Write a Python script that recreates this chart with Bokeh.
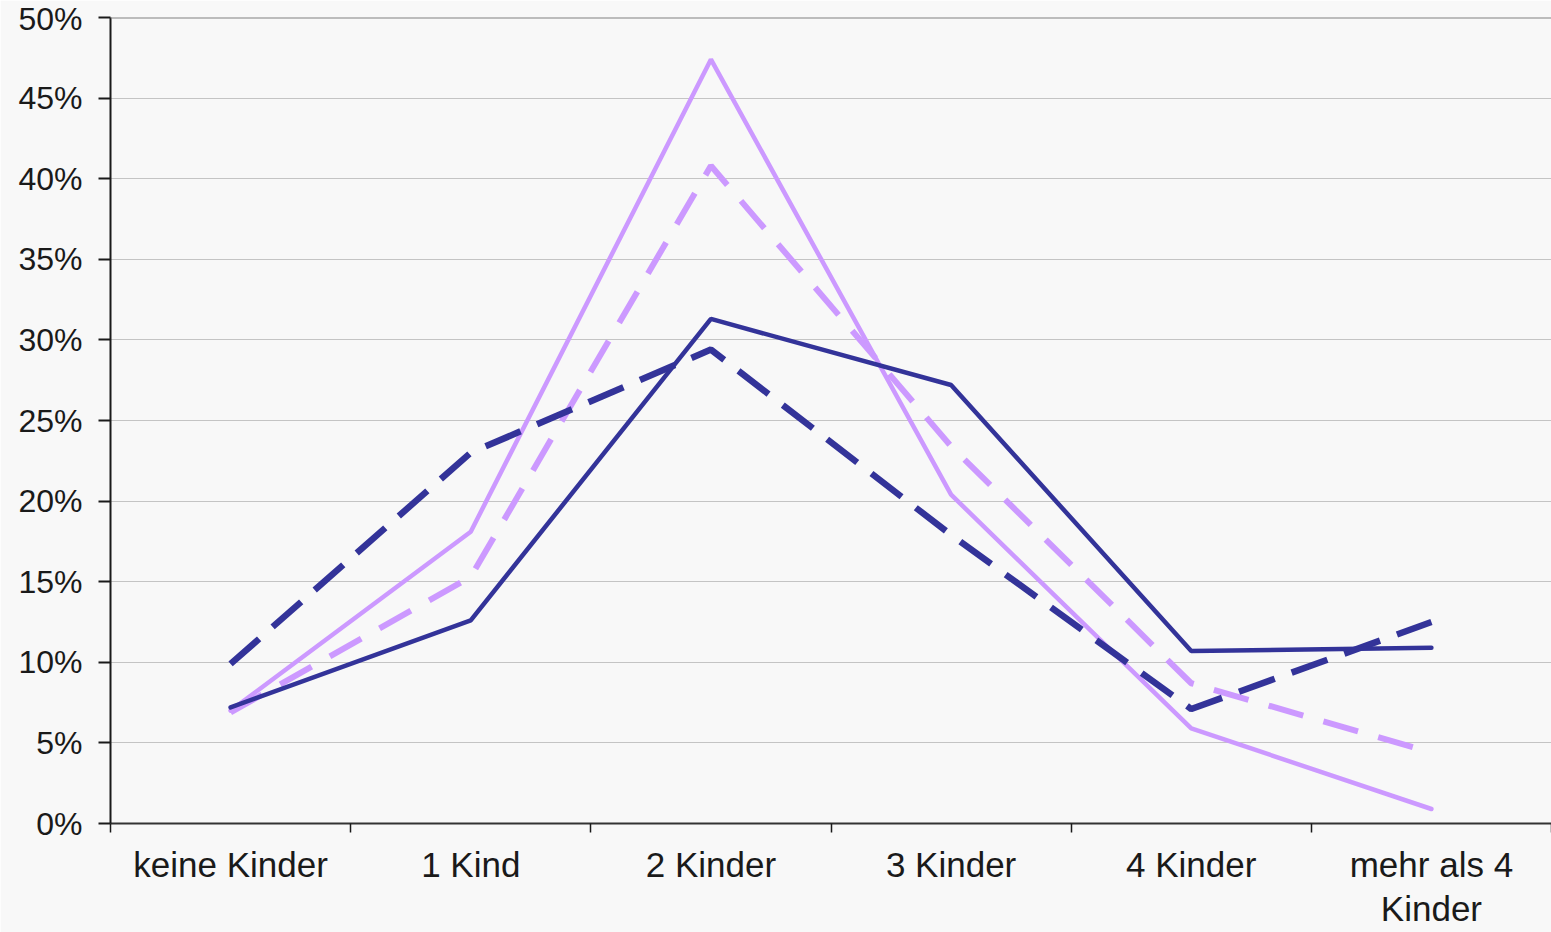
from bokeh.plotting import figure
from bokeh.models import FixedTicker, Span
from bokeh.embed import file_html
from bokeh.resources import INLINE

categories = ["keine Kinder", "1 Kind", "2 Kinder", "3 Kinder", "4 Kinder", "mehr als 4\nKinder"]
serie_hell = [7.0, 18.1, 47.4, 20.4, 5.9, 0.9]
serie_hell_gestrichelt = [6.9, 15.3, 40.8, 23.4, 8.7, 4.4]
serie_dunkel = [7.2, 12.6, 31.3, 27.2, 10.7, 10.9]
serie_dunkel_gestrichelt = [9.9, 23.0, 29.4, 17.9, 7.1, 12.5]
y_ticks = [0, 5, 10, 15, 20, 25, 30, 35, 40, 45, 50]

xs = [i + 0.5 for i in range(len(categories))]

BG = "#f8f8f8"
FONT = "Liberation Sans"

p = figure(width=1551, height=932, output_backend="svg", toolbar_location=None,
           x_range=(0, len(categories)), y_range=(0, 50),
           min_border_left=110, min_border_top=17, min_border_right=0, min_border_bottom=109,
           background_fill_color=BG, border_fill_color=BG, outline_line_color=None)

# grid
p.xgrid.grid_line_color = None
p.ygrid.grid_line_color = "#c4c4c4"
p.ygrid.grid_line_width = 1
p.ygrid.ticker = FixedTicker(ticks=y_ticks)
p.add_layout(Span(location=50, dimension="width", line_color="#808080", line_width=2))

# y axis
p.yaxis.ticker = FixedTicker(ticks=y_ticks)
p.yaxis.major_label_overrides = {t: f"{t}%" for t in y_ticks}
p.yaxis.major_tick_out = 12
p.yaxis.major_tick_in = 0
p.yaxis.minor_tick_line_color = None
p.yaxis.axis_line_color = "#1a1a1a"
p.yaxis.axis_line_width = 2
p.yaxis.major_tick_line_color = "#1a1a1a"
p.yaxis.major_tick_line_width = 2
p.yaxis.major_label_text_font = FONT
p.yaxis.major_label_text_font_size = "32px"
p.yaxis.major_label_text_color = "#1a1a1a"
p.yaxis.major_label_standoff = 16

# x axis
p.xaxis.ticker = FixedTicker(ticks=xs, minor_ticks=list(range(len(categories) + 1)))
p.xaxis.major_label_overrides = {x: c for x, c in zip(xs, categories)}
p.xaxis.major_tick_line_color = None
p.xaxis.major_tick_out = 0
p.xaxis.major_tick_in = 0
p.xaxis.minor_tick_out = 9
p.xaxis.minor_tick_in = 0
p.xaxis.minor_tick_line_color = "#1a1a1a"
p.xaxis.minor_tick_line_width = 1.5
p.xaxis.axis_line_color = "#333333"
p.xaxis.axis_line_width = 2
p.xaxis.major_label_text_font = FONT
p.xaxis.major_label_text_font_size = "35px"
p.xaxis.major_label_text_color = "#1a1a1a"
p.xaxis.major_label_text_line_height = 1.15
p.xaxis.major_label_standoff = 12

LIGHT = "#cc99ff"
DARK = "#333399"

p.line(xs, serie_hell, line_color=LIGHT, line_width=4.5, line_cap="round")
p.line(xs, serie_hell_gestrichelt, line_color=LIGHT, line_width=6, line_dash="36 21")
p.line(xs, serie_dunkel_gestrichelt, line_color=DARK, line_width=6.5, line_dash="38 18")
p.line(xs, serie_dunkel, line_color=DARK, line_width=4.5, line_cap="round")

open("out.html", "w").write(file_html(p, INLINE))
